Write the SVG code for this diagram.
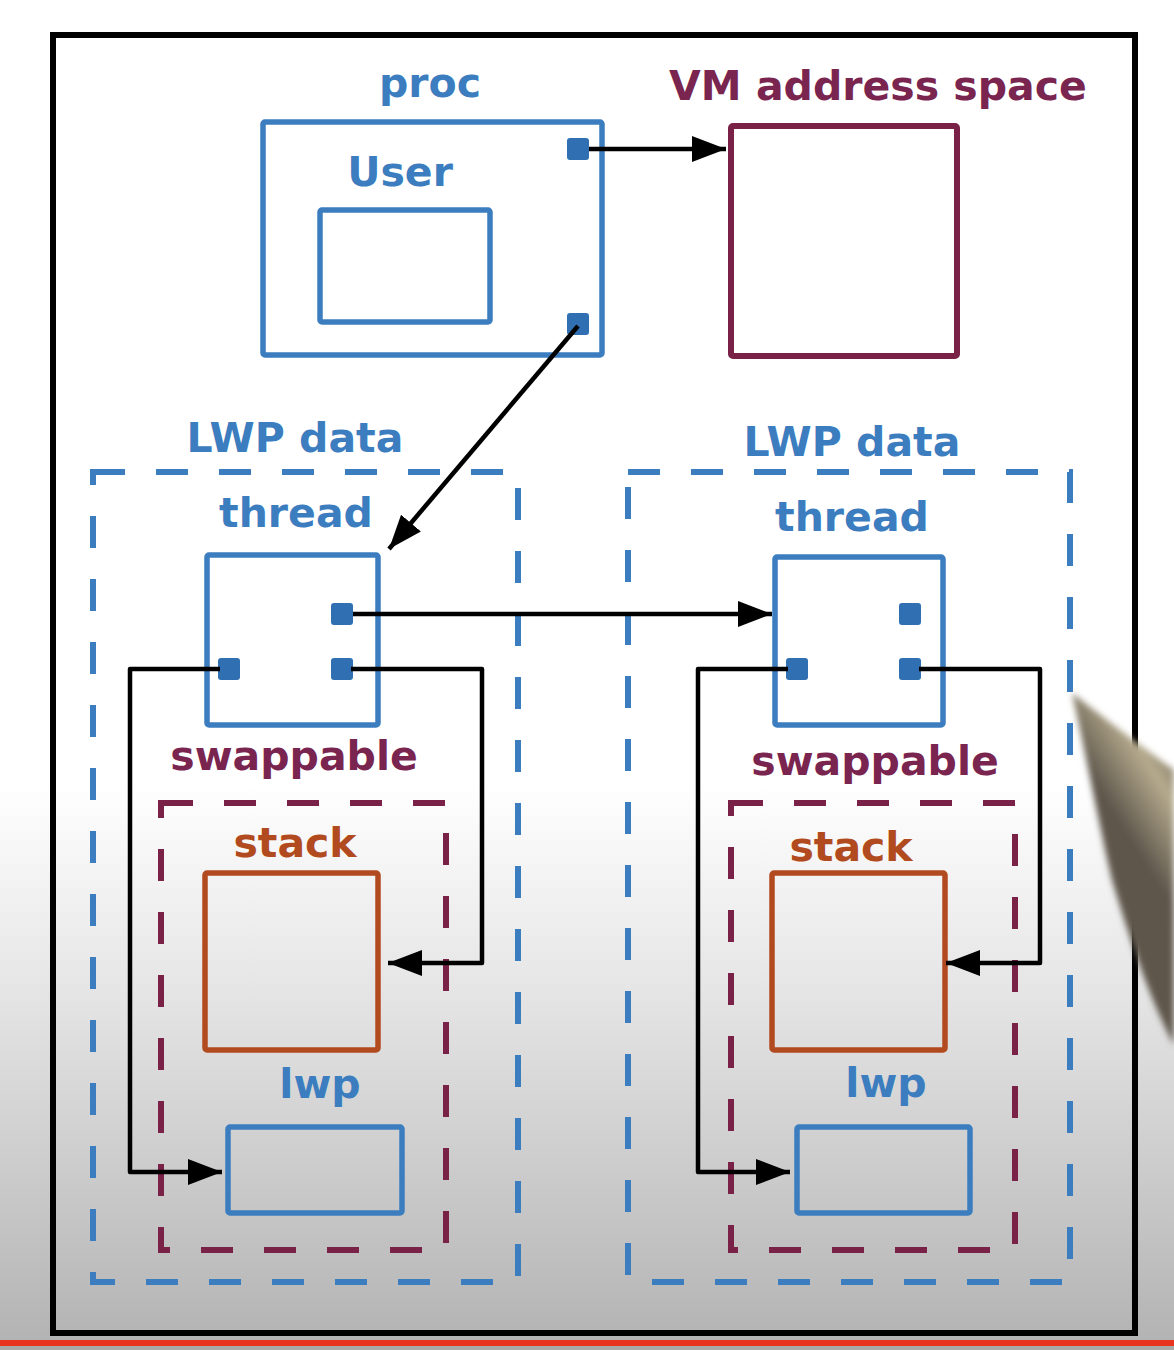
<svg xmlns="http://www.w3.org/2000/svg" width="1174" height="1350" viewBox="0 0 1174 1350">
  <defs>
    <linearGradient id="bg" x1="0" y1="0" x2="0" y2="1350" gradientUnits="userSpaceOnUse">
      <stop offset="0" stop-color="#ffffff"/>
      <stop offset="0.58" stop-color="#ffffff"/>
      <stop offset="0.74" stop-color="#e4e4e4"/>
      <stop offset="1" stop-color="#b2b2b2"/>
    </linearGradient>
    <linearGradient id="penShade" x1="1080" y1="760" x2="1174" y2="700" gradientUnits="userSpaceOnUse">
      <stop offset="0" stop-color="#5e574c"/>
      <stop offset="0.5" stop-color="#b6ab8e"/>
      <stop offset="1" stop-color="#4a443c"/>
    </linearGradient>
    <filter id="soft" x="-20%" y="-20%" width="140%" height="140%">
      <feGaussianBlur stdDeviation="3"/>
    </filter>
    <marker id="arrow" markerUnits="userSpaceOnUse" markerWidth="36" markerHeight="28" refX="34" refY="13" orient="auto">
      <path d="M0,0 L34,13 L0,26 z" fill="#000"/>
    </marker>
    <style>
      .lbl { font-family: "DejaVu Sans", "Liberation Sans", sans-serif; font-weight: bold; font-size: 41px; text-anchor: middle; }
      .blue { fill: #3b7dbf; }
      .maroon { fill: #7a2550; }
      .rust { fill: #b24a20; }
      .box { fill: none; stroke: #3b7dbf; stroke-width: 5.5; }
      .vm { fill: none; stroke: #7a2148; stroke-width: 6; }
      .stk { fill: none; stroke: #b24a20; stroke-width: 5.5; }
      .lwpdata { fill: none; stroke: #3b7dbf; stroke-width: 6; stroke-dasharray: 32 31; }
      .swap { fill: none; stroke: #7a2148; stroke-width: 6; stroke-dasharray: 32 31; }
      .port { fill: #2f6fb2; }
      .link { fill: none; stroke: #000; stroke-width: 4.5; stroke-linejoin: round; }
    </style>
  </defs>

  <!-- page background -->
  <rect x="0" y="0" width="1174" height="1350" fill="url(#bg)"/>

  <!-- outer frame -->
  <rect x="53" y="35" width="1082" height="1298" fill="none" stroke="#000" stroke-width="6"/>

  <!-- proc structure -->
  <g id="proc">
    <text class="lbl blue" x="430" y="97">proc</text>
    <rect class="box" x="263" y="122" width="339" height="233" rx="2"/>
    <text class="lbl blue" x="400" y="186">User</text>
    <rect class="box" x="320" y="210" width="170" height="112" rx="2"/>
    <rect class="port" x="567" y="138" width="22" height="22" rx="3"/>
    <rect class="port" x="567" y="313" width="22" height="22" rx="3"/>
  </g>

  <!-- VM address space -->
  <g id="vm">
    <text class="lbl maroon" x="878" y="100">VM address space</text>
    <rect class="vm" x="731" y="126" width="226" height="230" rx="2"/>
  </g>

  <!-- first LWP data group -->
  <g id="lwpdata-1">
    <text class="lbl blue" x="295" y="452">LWP data</text>
    <rect class="lwpdata" x="93" y="472" width="425" height="810"/>
  </g>
  <g id="thread-1">
    <text class="lbl blue" x="296" y="527">thread</text>
    <rect class="box" x="207" y="555" width="171" height="170" rx="2"/>
    <rect class="port" x="331" y="603" width="22" height="22" rx="3"/>
    <rect class="port" x="218" y="658" width="22" height="22" rx="3"/>
    <rect class="port" x="331" y="658" width="22" height="22" rx="3"/>
  </g>
  <g id="swappable-1">
    <text class="lbl maroon" x="294" y="770">swappable</text>
    <rect class="swap" x="161" y="803" width="285" height="447"/>
  </g>
  <g id="stack-1">
    <text class="lbl rust" x="295" y="857">stack</text>
    <rect class="stk" x="205" y="873" width="173" height="177" rx="2"/>
  </g>
  <g id="lwp-1">
    <text class="lbl blue" x="320" y="1098">lwp</text>
    <rect class="box" x="228" y="1127" width="174" height="86" rx="2"/>
  </g>

  <!-- second LWP data group -->
  <g id="lwpdata-2">
    <text class="lbl blue" x="852" y="456">LWP data</text>
    <rect class="lwpdata" x="628" y="472" width="442" height="810"/>
  </g>
  <g id="thread-2">
    <text class="lbl blue" x="852" y="531">thread</text>
    <rect class="box" x="775" y="557" width="168" height="168" rx="2"/>
    <rect class="port" x="899" y="603" width="22" height="22" rx="3"/>
    <rect class="port" x="786" y="658" width="22" height="22" rx="3"/>
    <rect class="port" x="899" y="658" width="22" height="22" rx="3"/>
  </g>
  <g id="swappable-2">
    <text class="lbl maroon" x="875" y="775">swappable</text>
    <rect class="swap" x="731" y="803" width="284" height="447"/>
  </g>
  <g id="stack-2">
    <text class="lbl rust" x="851" y="861">stack</text>
    <rect class="stk" x="772" y="873" width="173" height="177" rx="2"/>
  </g>
  <g id="lwp-2">
    <text class="lbl blue" x="886" y="1097">lwp</text>
    <rect class="box" x="797" y="1127" width="173" height="86" rx="2"/>
  </g>

  <!-- pointers between structures -->
  <g id="connectors">
    <path class="link" d="M589,149 H726" marker-end="url(#arrow)"/>
    <path class="link" d="M578,326 L389,549" marker-end="url(#arrow)"/>
    <path class="link" d="M353,614 H772" marker-end="url(#arrow)"/>
    <path class="link" d="M220,669 H130 V1172 H222" marker-end="url(#arrow)"/>
    <path class="link" d="M351,669 H482 V963 H388" marker-end="url(#arrow)"/>
    <path class="link" d="M788,669 H698 V1172 H790" marker-end="url(#arrow)"/>
    <path class="link" d="M919,669 H1040 V963 H946" marker-end="url(#arrow)"/>
  </g>

  <!-- pen tip in the foreground -->
  <path d="M1072,693 C1100,715 1140,745 1174,770 L1174,1045 C1150,1000 1130,940 1112,880 C1098,820 1085,750 1072,693 z" fill="url(#penShade)" filter="url(#soft)"/>

  <!-- playback bar -->
  <rect x="0" y="1340" width="1174" height="6" fill="#e8331f"/>
  <rect x="0" y="1346" width="1174" height="4" fill="#a9a9a9"/>
</svg>
